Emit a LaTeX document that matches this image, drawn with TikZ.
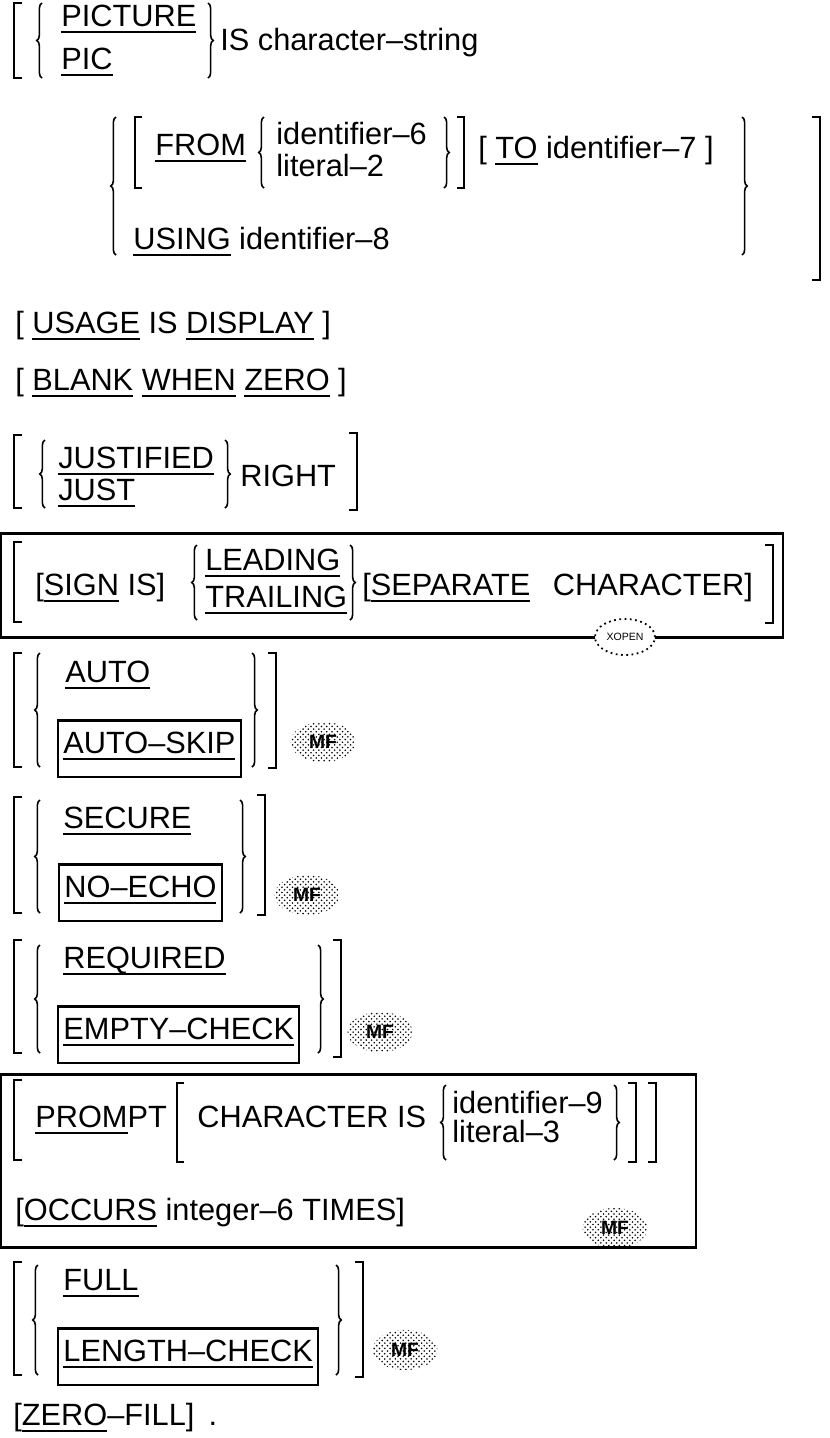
\documentclass[tikz,border=0pt]{standalone}
\usepackage{fontspec}
\setmainfont{Liberation Sans}
\usetikzlibrary{decorations.pathreplacing,patterns,shapes.geometric}
\newcommand\ulword[1]{\setbox0\hbox{#1}\rlap{\rule[-4pt]{\wd0}{1.3pt}}\box0\relax}
\newcommand\syntfont{\fontsize{17.5}{21}\selectfont}

\begin{document}
\begin{tikzpicture}[x=0.02cm,y=-0.02cm,
    txt/.style={anchor=base west,inner sep=0pt,font=\syntfont},
    kwbox/.style={draw,line width=1.3pt,anchor=base west,font=\syntfont,inner xsep=3pt,inner ysep=6pt,text height=12.5pt,text depth=7.5pt},
    brk/.style={line width=1.5pt},
    brc/.style={line width=0.9pt,decorate,decoration={brace,amplitude=3pt}},
    frame/.style={line width=1.7pt},
    mfmark/.style={ellipse,minimum width=1.3cm,minimum height=0.8cm,inner sep=0pt,pattern=crosshatch dots,font=\fontsize{11}{11}\selectfont\bfseries},
    xopen/.style={ellipse,draw,dotted,line width=1pt,fill=white,minimum width=1.2cm,minimum height=0.72cm,inner sep=0pt,font=\fontsize{6}{6}\selectfont}]
    \useasboundingbox (0,0) rectangle (829,1438);

    % PICTURE clause
    \draw[brk] (22,3) -- (14,3) -- (14,78) -- (22,78);
    \draw[brc] (42,78) -- (42,3);
    \node[txt] (pict) at (61,26) {\ulword{PICTURE}};
    \node[txt] (pic) at (61,69) {\ulword{PIC}};
    \draw[brc] (208,3) -- (208,78);
    \node[txt] (isstr) at (220,50) {IS character--string};

    \draw[brc] (116,255) -- (116,117);
    \draw[brk] (142,117) -- (135,117) -- (135,188) -- (142,188);
    \node[txt] (from) at (155,155) {\ulword{FROM}};
    \draw[brc] (264,188) -- (264,117);
    \node[txt] (id6) at (276,144) {identifier--6};
    \node[txt] (lit2) at (276,176) {literal--2};
    \draw[brc] (444,117) -- (444,188);
    \draw[brk] (457,117) -- (464,117) -- (464,188) -- (457,188);
    \node[txt] (to) at (478,158) {[ \ulword{TO} identifier--7 ]};
    \draw[brc] (742,117) -- (742,255);
    \node[txt] (using) at (133,249) {\ulword{USING} identifier--8};
    \draw[brk] (812,117) -- (820,117) -- (820,280) -- (812,280);

    % usage, blank, justified
    \node[txt] (usage) at (15,333) {[ \ulword{USAGE} IS \ulword{DISPLAY} ]};
    \node[txt] (blank) at (15,390) {[ \ulword{BLANK} \ulword{WHEN} \ulword{ZERO} ]};

    \draw[brk] (22,435) -- (14,435) -- (14,508) -- (22,508);
    \draw[brc] (45,508) -- (45,440);
    \node[txt] (justified) at (58,468) {\ulword{JUSTIFIED}};
    \node[txt] (just) at (58,500) {\ulword{JUST}};
    \draw[brc] (225,440) -- (225,508);
    \node[txt] (right) at (240,486) {RIGHT};
    \draw[brk] (349,433) -- (357,433) -- (357,510) -- (349,510);

    % sign clause
    \draw[frame] (1,533) rectangle (783,637);
    \draw[brk] (22,542) -- (14,542) -- (14,622) -- (22,622);
    \node[txt] (sign) at (35,595) {[\ulword{SIGN} IS]};
    \draw[brc] (197,620) -- (197,545);
    \node[txt] (leading) at (205,570) {\ulword{LEADING}};
    \node[txt] (trailing) at (205,607) {\ulword{TRAILING}};
    \draw[brc] (350,545) -- (350,620);
    \node[txt] (separate) at (362,595) {[\ulword{SEPARATE} \hspace{8pt}CHARACTER]};
    \draw[brk] (765,545) -- (773,545) -- (773,623) -- (765,623);
    \node[xopen] (xo) at (625,637) {XOPEN};

    % auto
    \draw[brk] (22,653) -- (14,653) -- (14,767) -- (22,767);
    \draw[brc] (40,767) -- (40,653);
    \node[txt] (auto) at (65,682) {\ulword{AUTO}};
    \node[kwbox] (autoskip) at (57,753) {\ulword{AUTO--SKIP}};
    \draw[brc] (252,653) -- (252,767);
    \draw[brk] (268,653) -- (276,653) -- (276,768) -- (268,768);
    \node[mfmark] (mf1) at (323,742) {MF};

    % secure
    \draw[brk] (22,797) -- (14,797) -- (14,913) -- (22,913);
    \draw[brc] (40,913) -- (40,800);
    \node[txt] (secure) at (63,828) {\ulword{SECURE}};
    \node[kwbox] (noecho) at (58,897) {\ulword{NO--ECHO}};
    \draw[brc] (240,800) -- (240,913);
    \draw[brk] (257,795) -- (265,795) -- (265,915) -- (257,915);
    \node[mfmark] (mf2) at (307,895) {MF};

    % required
    \draw[brk] (22,940) -- (14,940) -- (14,1053) -- (22,1053);
    \draw[brc] (40,1053) -- (40,945);
    \node[txt] (required) at (63,968) {\ulword{REQUIRED}};
    \node[kwbox] (empty) at (57,1039) {\ulword{EMPTY--CHECK}};
    \draw[brc] (318,945) -- (318,1053);
    \draw[brk] (333,940) -- (341,940) -- (341,1057) -- (333,1057);
    \node[mfmark] (mf3) at (380,1032) {MF};

    % prompt
    \draw[frame] (1,1074) rectangle (696,1247);
    \draw[brk] (22,1080) -- (14,1080) -- (14,1160) -- (22,1160);
    \node[txt] (prompt) at (35,1127) {\ulword{PROM}PT};
    \draw[brk] (184,1083) -- (177,1083) -- (177,1162) -- (184,1162);
    \node[txt] (charis) at (197,1127) {CHARACTER IS};
    \draw[brc] (446,1160) -- (446,1085);
    \node[txt] (id9) at (452,1113) {identifier--9};
    \node[txt] (lit3) at (452,1142) {literal--3};
    \draw[brc] (614,1085) -- (614,1160);
    \draw[brk] (628,1083) -- (636,1083) -- (636,1162) -- (628,1162);
    \draw[brk] (648,1083) -- (656,1083) -- (656,1162) -- (648,1162);
    \node[txt] (occurs) at (15,1220) {[\ulword{OCCURS} integer--6 TIMES]};
    \node[mfmark] (mf4) at (615,1228) {MF};

    % full
    \draw[brk] (22,1262) -- (14,1262) -- (14,1375) -- (22,1375);
    \draw[brc] (38,1375) -- (38,1265);
    \node[txt] (full) at (63,1290) {\ulword{FULL}};
    \node[kwbox] (lencheck) at (57,1361) {\ulword{LENGTH--CHECK}};
    \draw[brc] (336,1265) -- (336,1375);
    \draw[brk] (355,1262) -- (363,1262) -- (363,1377) -- (355,1377);
    \node[mfmark] (mf5) at (405,1350) {MF};

    \node[txt] (zerofill) at (13,1425) {[\ulword{ZERO}--FILL]\hspace{8pt}.};
\end{tikzpicture}
\end{document}
